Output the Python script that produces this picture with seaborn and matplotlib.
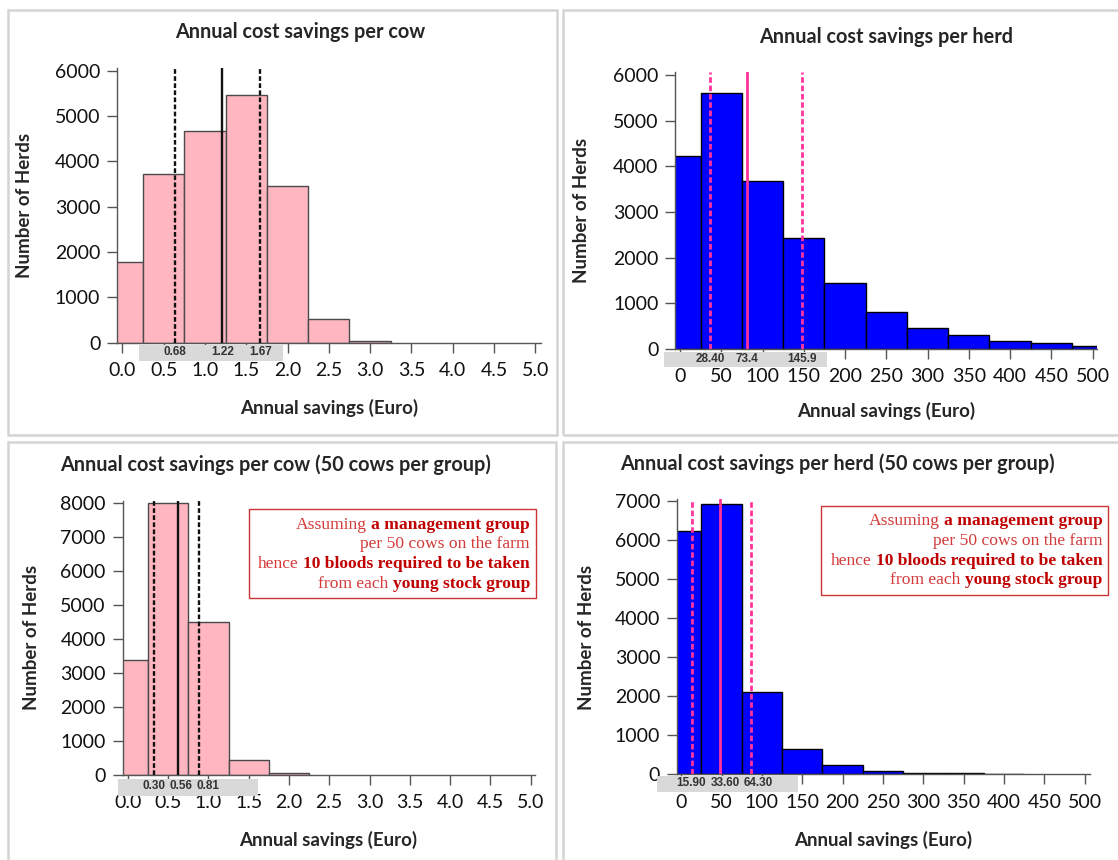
import numpy as np
import pandas as pd
import matplotlib
matplotlib.use("Agg")
import matplotlib.pyplot as plt
import matplotlib.transforms as mtransforms
from matplotlib.patches import Rectangle
import seaborn as sns

# ---------------- data ----------------
cow_bins = [0.0, 0.5, 1.0, 1.5, 2.0, 2.5, 3.0]
cow_counts = [1790, 3730, 4660, 5460, 3460, 515, 40]
cow_marks = [0.64, 1.21, 1.67]
cow_mark_labels = ["0.68", "1.22", "1.67"]

herd_bins = [0, 50, 100, 150, 200, 250, 300, 350, 400, 450, 500]
herd_counts = [4220, 5600, 3690, 2430, 1440, 810, 470, 300, 170, 130, 75]
herd_marks = [36.8, 81.0, 148.0]
herd_mark_labels = ["28.40", "73.4", "145.9"]

cow50_bins = [0.0, 0.5, 1.0, 1.5, 2.0]
cow50_counts = [3370, 8000, 4500, 430, 50]
cow50_marks = [0.32, 0.62, 0.88]
cow50_mark_labels = ["0.30", "0.56", "0.81"]

herd50_bins = [0, 50, 100, 150, 200, 250, 300, 350, 400]
herd50_counts = [6250, 6930, 2120, 650, 230, 85, 40, 25, 17]
herd50_marks = [12.8, 48.7, 86.0]
herd50_mark_labels = ["15.90", "33.60", "64.30"]

cow_xticks = [0.0, 0.5, 1.0, 1.5, 2.0, 2.5, 3.0, 3.5, 4.0, 4.5, 5.0]
herd_xticks = [0, 50, 100, 150, 200, 250, 300, 350, 400, 450, 500]

titles = ["Annual cost savings per cow",
          "Annual cost savings per herd",
          "Annual cost savings per cow (50 cows per group)",
          "Annual cost savings per herd (50 cows per group)"]
x_label = "Annual savings (Euro)"
y_label = "Number of Herds"
mark_styles = ["dashed", "solid", "dashed"]

note_lines = [
    [("Assuming", False), ("a management group", True)],
    [("per 50 cows on the farm", False)],
    [("hence", False), ("10 bloods required to be taken", True)],
    [("from each", False), ("young stock group", True)],
]

# ---------------- style ----------------
sns.set_style("ticks")
plt.rcParams["font.family"] = ["Lato", "DejaVu Sans"]

W, H = 1118, 860
fig = plt.figure(figsize=(W / 100, H / 100), dpi=100)
fig.patch.set_facecolor("white")

PINK = "#ffb6c1"
BLUE = "#0000ff"
MAGENTA = "#ff3399"

panels = [
    dict(bins=cow_bins, counts=cow_counts, marks=cow_marks, mlabels=cow_mark_labels,
         face=PINK, edge="#4a4a4a", line="#111111", lw=1.7,
         rect=(117, 68, 541, 342.7), xlim=(-0.066, 5.07), ylim=(0, 6060),
         xticks=cow_xticks, fmt="{:.1f}", ymax=6000,
         title=titles[0], title_xy=(300, 40), ylab_xy=(25, 205), xlab_y=408,
         strip=(0.203, 1.946, 345, 361.5), lab_y=352.5, frame=(8, 10, 557, 435), note=None),
    dict(bins=herd_bins, counts=herd_counts, marks=herd_marks, mlabels=herd_mark_labels,
         face=BLUE, edge="#000000", line=MAGENTA, lw=2.0,
         rect=(675.1, 71.7, 1097.3, 349), xlim=(-6.1, 505.7), ylim=(0, 6075),
         xticks=herd_xticks, fmt="{:.0f}", ymax=6000,
         title=titles[1], title_xy=(886, 45), ylab_xy=(581, 210), xlab_y=411,
         strip=(-19.9, 177.5, 351.7, 367.5), lab_y=359, frame=(563, 10, 1130, 435), note=None),
    dict(bins=cow50_bins, counts=cow50_counts, marks=cow50_marks, mlabels=cow50_mark_labels,
         face=PINK, edge="#4a4a4a", line="#111111", lw=1.7,
         rect=(122.5, 500.7, 534.6, 775), xlim=(-0.067, 5.05), ylim=(0, 8060),
         xticks=cow_xticks, fmt="{:.1f}", ymax=8000,
         title=titles[2], title_xy=(276, 473), ylab_xy=(32, 637), xlab_y=840,
         strip=(-0.124, 1.615, 779, 795.7), lab_y=786, frame=(8, 442, 556, 875),
         note=dict(box=(249, 509, 536, 598), right=530, base=[529, 548.5, 568, 587.5])),
    dict(bins=herd50_bins, counts=herd50_counts, marks=herd50_marks, mlabels=herd50_mark_labels,
         face=BLUE, edge="#000000", line=MAGENTA, lw=2.0,
         rect=(676.9, 499, 1090, 774.3), xlim=(-5.3, 506.5), ylim=(0, 7060),
         xticks=herd_xticks, fmt="{:.0f}", ymax=7000,
         title=titles[3], title_xy=(837, 472), ylab_xy=(587, 637), xlab_y=840,
         strip=(-29.6, 144.7, 776, 792), lab_y=783, frame=(563, 442, 1130, 875),
         note=dict(box=(821, 506, 1108, 595), right=1102.6, base=[525, 544.8, 564.6, 584.4])),
]


def fx(px):
    return px / W


def fy(py):
    return 1 - py / H


renderer = fig.canvas.get_renderer()

for p in panels:
    # panel frame
    l, t, r, b = p["frame"]
    fig.patches.append(Rectangle((fx(l), fy(b)), fx(r - l), (b - t) / H,
                                 transform=fig.transFigure, fill=False,
                                 edgecolor="#d4d4d4", linewidth=1.8, zorder=0))

    l, t, r, b = p["rect"]
    ax = fig.add_axes([fx(l), fy(b), fx(r - l), (b - t) / H])
    ax.set_facecolor("white")
    axw, axh = r - l, b - t

    bins = np.asarray(p["bins"], dtype=float)
    width = bins[1] - bins[0]
    edges = [float(v) for v in np.append(bins - width / 2, bins[-1] + width / 2)]
    df = pd.DataFrame({"saving": bins, "herds": np.asarray(p["counts"], dtype=float)})
    sns.histplot(data=df, x="saving", weights="herds", bins=edges, ax=ax,
                 color=p["face"], edgecolor=p["edge"], linewidth=1.0,
                 alpha=1.0, stat="count", zorder=2)

    for pos, style in zip(p["marks"], mark_styles):
        if style == "dashed":
            ax.axvline(pos, color=p["line"], linestyle=(0, (2.0, 1.0)),
                       linewidth=p["lw"], zorder=3)
        else:
            ax.axvline(pos, color=p["line"], linestyle="-", linewidth=p["lw"], zorder=3)

    ax.set_xlim(*p["xlim"])
    ax.set_ylim(*p["ylim"])
    ax.set_xticks(p["xticks"])
    ax.set_xticklabels([p["fmt"].format(v) for v in p["xticks"]])
    ax.set_yticks(np.arange(0, p["ymax"] + 1, 1000))
    ax.tick_params(axis="both", direction="out", length=7.5, width=1.0,
                   color="#555555", labelsize=14, labelcolor="#111111")
    ax.tick_params(axis="x", pad=6.5)
    ax.tick_params(axis="y", pad=4.5)
    sns.despine(ax=ax)
    for s in ("left", "bottom"):
        ax.spines[s].set_color("#555555")
        ax.spines[s].set_linewidth(1.0)

    # labels
    ax.set_xlabel(x_label, fontsize=13.5, fontweight="bold", va="center")
    ax.xaxis.set_label_coords(0.5, (b - p["xlab_y"]) / axh)
    ax.set_ylabel(y_label, fontsize=13.5, fontweight="bold", va="center")
    ax.yaxis.set_label_coords((p["ylab_xy"][0] - l) / axw, (b - p["ylab_xy"][1]) / axh)
    ax.set_title(p["title"], fontsize=14.3, fontweight="bold",
                 x=(p["title_xy"][0] - l) / axw, y=(b - p["title_xy"][1]) / axh,
                 va="center", ha="center")

    # grey strip with quantile labels (labels nudged apart so they never overlap)
    trans = mtransforms.blended_transform_factory(ax.transData, ax.transAxes)
    x0, x1, y0, y1 = p["strip"]
    ax.add_patch(Rectangle((x0, (b - y1) / axh), x1 - x0, (y1 - y0) / axh,
                           transform=trans, facecolor="#d9d9d9", edgecolor="none",
                           clip_on=False, zorder=1))
    prev_right = -1e9
    inv = ax.transData.inverted()
    for pos, lab in zip(p["marks"], p["mlabels"]):
        tt = ax.text(pos, (b - p["lab_y"]) / axh, lab, transform=trans, ha="center",
                     va="center", fontsize=8.5, fontweight="bold", color="#333333",
                     family=["Liberation Sans", "DejaVu Sans"], clip_on=False, zorder=4)
        wpx = tt.get_window_extent(renderer).width
        cx = ax.transData.transform((pos, 0))[0]
        cx = max(cx, prev_right + 4 + wpx / 2)
        tt.set_x(inv.transform((cx, 0))[0])
        prev_right = cx + wpx / 2

    # note box
    if p["note"] is not None:
        n = p["note"]
        bl, bt, br, bb = n["box"]
        fig.patches.append(Rectangle((fx(bl), fy(bb)), fx(br - bl), (bb - bt) / H,
                                     transform=fig.transFigure, facecolor="white",
                                     edgecolor="#cc3333", linewidth=1.0, zorder=5))
        fs = 12.6
        space = 0.25 * fs * 100 / 72
        for parts, base in zip(note_lines, n["base"]):
            xr = n["right"]
            for txt, bold in reversed(parts):
                tt = fig.text(fx(xr), fy(base), txt, ha="right", va="baseline",
                              fontsize=fs, fontweight="bold" if bold else "normal",
                              color="#c00000" if bold else "#d43a3a",
                              family=["Liberation Serif", "DejaVu Serif"], zorder=6)
                wpx = tt.get_window_extent(renderer).width
                xr -= wpx + space

fig.savefig("out.png", dpi=100, facecolor="white")
